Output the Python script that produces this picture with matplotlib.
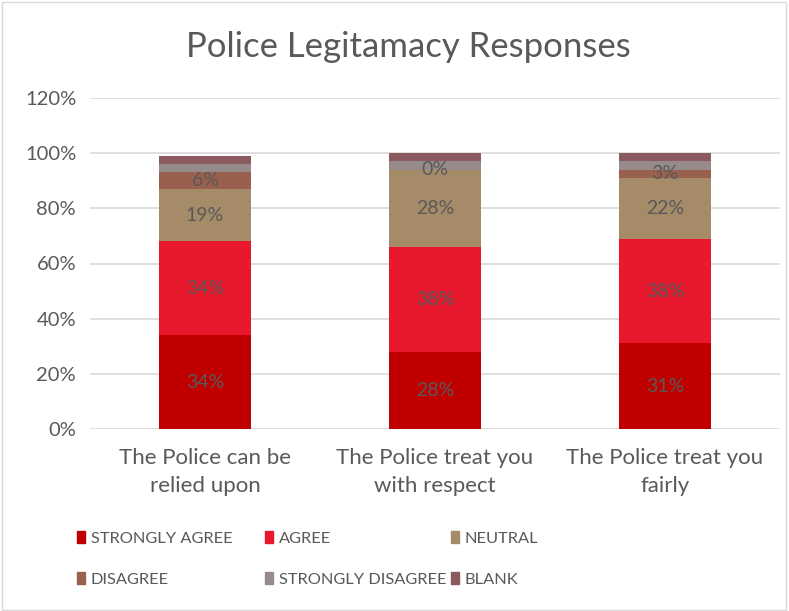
import numpy as np
import matplotlib.pyplot as plt
from matplotlib.patches import Patch, Rectangle

plt.rcParams['font.family'] = ['Lato', 'DejaVu Sans']

# --- data ---
categories = ['The Police can be\nrelied upon', 'The Police treat you\nwith respect', 'The Police treat you\nfairly']
series_names = ['STRONGLY AGREE', 'AGREE', 'NEUTRAL', 'DISAGREE', 'STRONGLY DISAGREE', 'BLANK']
strongly_agree = [34, 28, 31]
agree = [34, 38, 38]
neutral = [19, 28, 22]
disagree = [6, 0, 3]
strongly_disagree = [3, 3, 3]
blank = [3, 3, 3]
show_label = [True, True, True, True, False, False]

colors = ['#C00000', '#E8192C', '#A68B68', '#99614D', '#968A8A', '#8A5A5E']
text_col = '#595959'

values = [strongly_agree, agree, neutral, disagree, strongly_disagree, blank]

fig = plt.figure(figsize=(7.89, 6.11), dpi=100)
ax = fig.add_axes([90 / 789, 1 - 429 / 611, 690 / 789, 331 / 611])

x = np.arange(len(categories))
bottom = np.zeros(len(categories))
for name, vals, col, lab in zip(series_names, values, colors, show_label):
    vals = np.array(vals, dtype=float)
    ax.bar(x, vals, 0.4, bottom=bottom, color=col, label=name, zorder=3)
    if lab:
        for xi, v, bt in zip(x, vals, bottom):
            ax.text(xi, bt + v / 2, f'{v:.0f}%', ha='center', va='center',
                    fontsize=14, color=text_col, zorder=4)
    bottom += vals

ax.set_xlim(-0.5, 2.5)
ax.set_ylim(0, 120)
ax.set_yticks(range(0, 121, 20))
ax.set_yticklabels([f'{t}%' for t in range(0, 121, 20)], fontsize=14.5, color=text_col)
ax.set_xticks(x)
ax.set_xticklabels(categories, fontsize=16, color=text_col, linespacing=1.45)
ax.tick_params(length=0)
ax.tick_params(axis='y', pad=10)
ax.tick_params(axis='x', pad=14)
ax.grid(axis='y', color='#D9D9D9', linewidth=1.2, zorder=0)
for s in ax.spines.values():
    s.set_visible(False)

fig.text(408 / 789, 1 - 47 / 611, 'Police Legitamacy Responses', ha='center', va='center',
         fontsize=25, color=text_col)

# legend in three columns, filled row by row
handles = [Patch(color=c) for c in colors]
col_x = [77, 265, 451]
for i, cx in enumerate(col_x):
    idx = [i, i + 3]
    fig.legend([handles[j] for j in idx], [series_names[j] for j in idx],
               loc='upper left', bbox_to_anchor=(cx / 789, 1 - 531 / 611),
               frameon=False, fontsize=11.8, labelcolor=text_col,
               handlelength=0.5, handleheight=0.75, handletextpad=0.35,
               labelspacing=1.6, borderaxespad=0, borderpad=0)

fig.patches.append(Rectangle((0.002, 0.002), 0.994, 0.994, transform=fig.transFigure,
                             fill=False, edgecolor='#D9D9D9', linewidth=1))

fig.savefig('out.png', dpi=100)
